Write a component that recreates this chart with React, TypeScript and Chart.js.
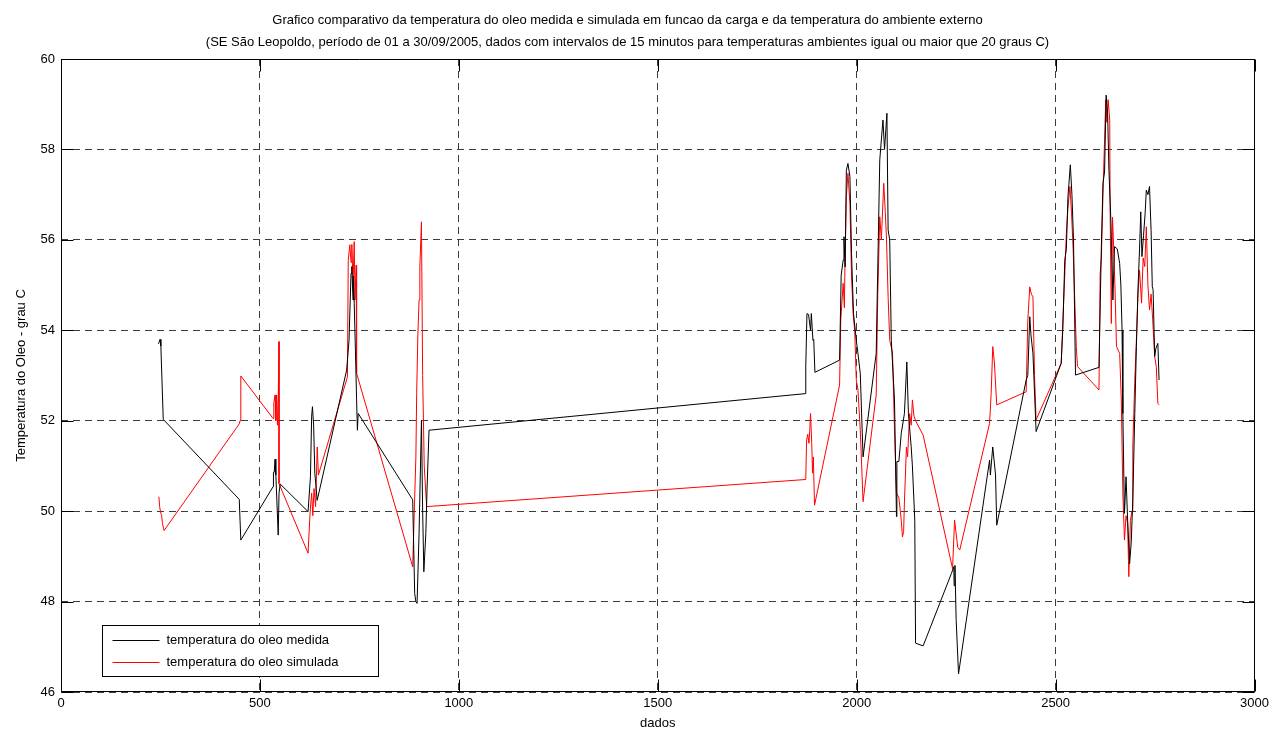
import React, { useEffect, useRef } from 'react';
import { Chart, registerables } from 'chart.js';

Chart.register(...registerables);

const titleLines = [
  'Grafico comparativo da temperatura do oleo medida e simulada em funcao da carga e da temperatura do ambiente externo',
  '(SE São Leopoldo, período de 01 a 30/09/2005, dados com intervalos de 15 minutos para temperaturas ambientes igual ou maior que 20 graus C)',
];
const xTitle = 'dados';
const yTitle = 'Temperatura do Oleo - grau C';
const xTicks = [0, 500, 1000, 1500, 2000, 2500, 3000];
const xTickLabels = ['0', '500', '1000', '1500', '2000', '2500', '3000'];
const yTicks = [46, 48, 50, 52, 54, 56, 58, 60];
const yTickLabels = ['46', '48', '50', '52', '54', '56', '58', '60'];
const measuredLabel = 'temperatura do oleo medida';
const simulatedLabel = 'temperatura do oleo simulada';

const measuredX = [
  245, 249, 251, 257, 448, 452, 533, 534, 536, 538, 540, 546, 548, 551, 621, 627, 630, 632, 635, 638, 644,
  718, 724, 729, 731, 734, 735, 737, 740, 743, 745, 747, 884, 889, 892, 895, 900, 906, 909, 912, 917, 920, 925,
  1872, 1872, 1875, 1879, 1884, 1886, 1890, 1892, 1895, 1957, 1961, 1966, 1968, 1971, 1974, 1978, 1983, 1987,
  1992, 1999, 2003, 2009, 2016, 2049, 2058, 2066, 2070, 2076, 2079, 2083, 2087, 2095, 2100, 2101, 2106, 2112,
  2120, 2126, 2130, 2137, 2140, 2146, 2148, 2167, 2238, 2244, 2245, 2247, 2250, 2256, 2334, 2336, 2342, 2349,
  2352, 2426, 2430, 2435, 2438, 2443, 2451, 2514, 2518, 2523, 2527, 2531, 2537, 2541, 2545, 2550, 2609, 2615,
  2619, 2623, 2627, 2631, 2634, 2639, 2644, 2648, 2655, 2661, 2664, 2667, 2669, 2673, 2677, 2681, 2686, 2690,
  2694, 2699, 2703, 2707, 2711, 2714, 2717, 2721, 2725, 2728, 2732, 2736, 2740, 2743, 2745, 2749, 2752, 2757, 2760,
];
const measuredY = [
  53.7, 53.8, 53.65, 52.03, 50.26, 49.36, 50.54, 50.86, 50.86, 51.15, 50.8, 49.47, 50.4, 50.6, 49.99, 50.76, 52.1, 52.31, 51.9, 50.84, 50.24,
  53.12, 53.78, 55.26, 55.41, 54.67, 55.2, 54.6, 53.56, 52.46, 51.79, 52.16, 50.25, 48.18, 48.0, 47.96, 49.5, 52.0, 50.0, 48.66, 49.5, 50.47, 51.79,
  52.6, 53.2, 54.37, 54.35, 54.0, 54.37, 53.78, 53.8, 53.07, 53.34, 55.22, 55.55, 56.07, 55.4, 57.54, 57.69, 57.4, 55.7,
  54.37, 53.78, 53.5, 53.05, 51.2, 53.49, 57.77, 58.65, 58.0, 58.8, 56.22, 56.0, 53.78, 52.46, 49.88, 51.1, 51.1, 51.72,
  52.16, 53.3, 52.16, 51.42, 51.0, 49.8, 47.08, 47.02, 48.62, 48.77, 48.35, 48.8, 47.6, 46.4, 51.13, 50.8, 51.42, 50.8,
  49.69, 52.9, 53.0, 54.3, 53.9, 53.49, 51.76, 53.27, 54.0, 55.55, 55.8, 56.95, 57.66, 57.0, 56.0, 53.01, 53.18, 55.85,
  57.25, 57.5, 59.2, 58.7, 57.54, 56.4, 54.67, 55.85, 55.8, 55.48, 55.0, 54.0, 52.16, 49.95, 50.76, 49.8, 48.84, 49.3,
  50.25, 52.16, 53.64, 54.9, 55.8, 56.62, 55.63, 56.1, 56.59, 57.1, 57.0, 57.18, 56.2, 54.96, 54.9, 53.42, 53.6, 53.71, 52.9,
];

const simulatedX = [
  246, 248, 250, 253, 255, 259, 448, 450, 452, 533, 535, 538, 540, 542, 544, 546, 548, 548, 621, 626, 630, 633,
  636, 640, 644, 647, 720, 722, 726, 729, 731, 734, 737, 739, 742, 743, 884, 888, 892, 894, 897, 900, 902, 906,
  909, 913, 919, 1872, 1874, 1877, 1880, 1882, 1884, 1887, 1889, 1891, 1894, 1957, 1960, 1966, 1969, 1971, 1974,
  1978, 1983, 1987, 1991, 1995, 1999, 2003, 2009, 2016, 2049, 2053, 2058, 2062, 2068, 2072, 2075, 2079, 2083,
  2090, 2095, 2100, 2106, 2112, 2115, 2118, 2120, 2125, 2128, 2133, 2137, 2140, 2144, 2148, 2167, 2241, 2246,
  2250, 2254, 2259, 2334, 2338, 2342, 2346, 2352, 2426, 2430, 2435, 2439, 2443, 2447, 2451, 2514, 2522, 2527,
  2531, 2536, 2540, 2544, 2548, 2552, 2555, 2609, 2612, 2615, 2619, 2623, 2626, 2629, 2632, 2636, 2637, 2640,
  2643, 2646, 2649, 2653, 2661, 2665, 2669, 2673, 2677, 2681, 2684, 2688, 2692, 2694, 2699, 2703, 2707, 2711,
  2716, 2720, 2724, 2728, 2732, 2736, 2740, 2744, 2749, 2753, 2757, 2760,
];
const simulatedY = [
  50.32, 50.1, 49.99, 49.9, 49.73, 49.57, 51.93, 52.0, 52.99, 52.05, 52.4, 52.57, 52.0, 52.57, 51.9, 52.5, 53.75, 50.61, 49.07, 49.95, 50.4, 49.9,
  50.5, 50.1, 51.42, 50.8, 52.97, 55.55, 55.89, 55.5, 55.9, 55.04, 55.96, 54.67, 55.44, 53.05, 48.77, 50.0, 51.2, 52.6, 53.9, 54.67, 55.41, 56.4,
  53.0, 51.0, 50.1, 50.7, 51.57, 51.7, 51.5, 51.79, 52.16, 51.5, 50.84, 51.2, 50.13, 52.79, 54.23, 55.04, 54.5, 55.7, 56.95,
  57.47, 56.8, 55.2, 54.37, 54.0, 52.9, 52.7, 51.8, 50.21, 52.57, 54.8, 56.51, 56.0, 57.25, 56.6, 56.0, 54.74, 53.78,
  53.5, 51.8, 50.4, 50.3, 49.8, 49.43, 49.55, 50.2, 51.42, 51.2, 52.16, 51.9, 52.46, 52.1, 52.0, 51.68, 48.73, 49.8,
  49.5, 49.2, 49.14, 51.94, 52.6, 53.64, 53.3, 52.35, 52.64, 54.2, 54.96, 54.8, 54.74, 53.0, 52.02, 53.27, 55.0, 56.14,
  56.7, 57.18, 56.6, 55.8, 54.7, 53.64, 53.2, 52.68, 55.26, 55.6, 57.0, 58.2, 59.1, 58.6, 59.1, 58.65, 56.66, 54.15,
  56.5, 55.8, 55.0, 53.64, 53.49, 52.5, 50.4, 49.36, 49.9, 49.73, 48.55, 49.8, 50.0, 51.42, 52.9, 53.78, 54.8, 55.33,
  54.6, 55.6, 55.41, 56.29, 55.0, 54.45, 54.8, 54.23, 53.42, 53.2, 52.38, 52.35,
];

const FONT = "'Liberation Sans', Arial, Helvetica, sans-serif";
const TICK_LEN = 12;

const framePlugin = {
  id: 'matlabFrame',
  afterDraw(chart: any) {
    const { ctx, chartArea } = chart;
    const xs = chart.scales.x;
    const ys = chart.scales.y;
    const L = Math.round(chartArea.left) + 0.5;
    const R = Math.round(chartArea.right) - 0.5;
    const T = Math.round(chartArea.top) + 0.5;
    const B = Math.round(chartArea.bottom) - 0.5;
    ctx.save();
    ctx.strokeStyle = '#000';
    ctx.lineWidth = 1;
    ctx.setLineDash([]);
    ctx.beginPath();
    ctx.rect(L, T, R - L, B - T);
    xTicks.forEach((v) => {
      const px = Math.round(xs.getPixelForValue(v)) + 0.5;
      ctx.moveTo(px, B);
      ctx.lineTo(px, B - TICK_LEN);
      ctx.moveTo(px, T);
      ctx.lineTo(px, T + TICK_LEN);
    });
    yTicks.forEach((v) => {
      const py = Math.round(ys.getPixelForValue(v)) + 0.5;
      ctx.moveTo(L, py);
      ctx.lineTo(L + TICK_LEN, py);
      ctx.moveTo(R, py);
      ctx.lineTo(R - TICK_LEN, py);
    });
    ctx.stroke();

    // legend box
    const bx = Math.round(chartArea.left) + 41 + 0.5;
    const by = Math.round(chartArea.bottom) - 67 + 0.5;
    const bw = 276;
    const bh = 51;
    ctx.fillStyle = '#fff';
    ctx.fillRect(bx, by, bw, bh);
    ctx.strokeStyle = '#000';
    ctx.strokeRect(bx, by, bw, bh);
    ctx.font = `13px ${FONT}`;
    ctx.textBaseline = 'middle';
    ctx.textAlign = 'left';
    chart.data.datasets.forEach((ds: any, i: number) => {
      const ly = Math.round(by + 14 + i * 22.5) + 0.5;
      ctx.strokeStyle = ds.borderColor;
      ctx.beginPath();
      ctx.moveTo(bx + 10, ly);
      ctx.lineTo(bx + 57, ly);
      ctx.stroke();
      ctx.fillStyle = '#000';
      ctx.fillText(ds.label, bx + 64, ly);
    });
    ctx.restore();
  },
};

export default function App() {
  const canvasRef = useRef<HTMLCanvasElement | null>(null);

  useEffect(() => {
    if (!canvasRef.current) return;
    const measured = measuredX.map((x, i) => ({ x, y: measuredY[i] }));
    const simulated = simulatedX.map((x, i) => ({ x, y: simulatedY[i] }));
    const gridCommon = {
      color: '#3c3c3c',
      lineWidth: 1,
      drawTicks: false,
    };
    const chart = new Chart(canvasRef.current, {
      type: 'scatter',
      data: {
        datasets: [
          {
            label: measuredLabel,
            data: measured,
            showLine: true,
            borderColor: '#000000',
            backgroundColor: '#000000',
            borderWidth: 1,
            pointRadius: 0,
            pointHoverRadius: 0,
            tension: 0,
          },
          {
            label: simulatedLabel,
            data: simulated,
            showLine: true,
            borderColor: '#ff0000',
            backgroundColor: '#ff0000',
            borderWidth: 1,
            pointRadius: 0,
            pointHoverRadius: 0,
            tension: 0,
          },
        ],
      },
      options: {
        responsive: false,
        animation: false,
        layout: { padding: { left: 0, right: 18, top: 0, bottom: 0 } },
        plugins: {
          legend: { display: false },
          tooltip: { enabled: false },
          title: {
            display: true,
            text: titleLines,
            color: '#000',
            font: { family: FONT, size: 13, weight: 'normal', lineHeight: 1.7 },
            padding: { top: 9, bottom: 5.8 },
          },
        },
        scales: {
          x: {
            type: 'linear',
            min: xTicks[0],
            max: xTicks[xTicks.length - 1],
            afterBuildTicks: (s: any) => {
              s.ticks = xTicks.map((v) => ({ value: v }));
            },
            afterFit: (s: any) => {
              s.height = 39;
            },
            grid: gridCommon,
            border: { display: false, dash: [7, 5] },
            ticks: {
              color: '#000',
              padding: 4,
              maxRotation: 0,
              autoSkip: false,
              font: { family: FONT, size: 13 },
              callback: (_v: any, i: number) => xTickLabels[i],
            },
            title: {
              display: true,
              text: xTitle,
              color: '#000',
              font: { family: FONT, size: 13 },
              padding: { top: 0, bottom: 0 },
            },
          },
          y: {
            type: 'linear',
            min: yTicks[0],
            max: yTicks[yTicks.length - 1],
            afterBuildTicks: (s: any) => {
              s.ticks = yTicks.map((v) => ({ value: v }));
            },
            afterFit: (s: any) => {
              s.width = 61;
            },
            grid: gridCommon,
            border: { display: false, dash: [7, 5] },
            ticks: {
              color: '#000',
              padding: 6,
              autoSkip: false,
              font: { family: FONT, size: 13 },
              callback: (_v: any, i: number) => yTickLabels[i],
            },
            title: {
              display: true,
              text: yTitle,
              color: '#000',
              font: { family: FONT, size: 13 },
              padding: { top: 14, bottom: 0 },
            },
          },
        },
      },
      plugins: [framePlugin],
    } as any);
    return () => {
      chart.destroy();
    };
  }, []);

  return (
    <canvas
      ref={canvasRef}
      width={1273}
      height={731}
      style={{ position: 'fixed', left: 0, top: 0, width: 1273, height: 731, display: 'block', background: '#fff' }}
    />
  );
}
